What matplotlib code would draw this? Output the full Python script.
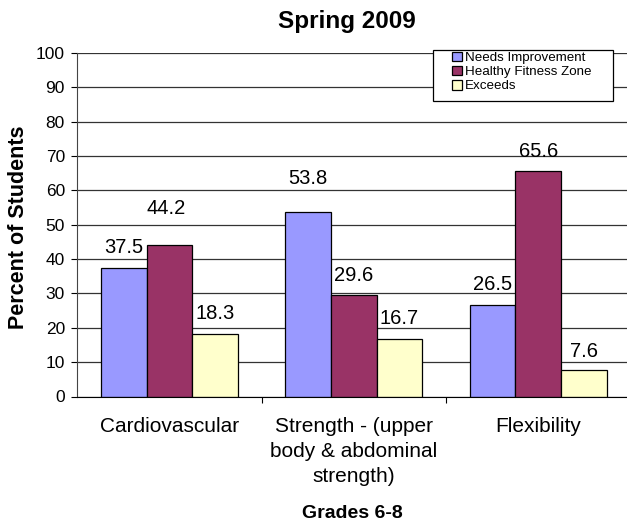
import numpy as np
import matplotlib.pyplot as plt
from matplotlib.patches import Rectangle

plt.rcParams['font.family'] = ['Liberation Sans', 'DejaVu Sans']

categories = ["Cardiovascular", "Strength - (upper\nbody & abdominal\nstrength)", "Flexibility"]
needs = [37.5, 53.8, 26.5]
healthy = [44.2, 29.6, 65.6]
exceeds = [18.3, 16.7, 7.6]
series_names = ["Needs Improvement", "Healthy Fitness Zone", "Exceeds"]
colors = ["#9999FF", "#993366", "#FFFFCC"]

# label offsets above bar top (pixels) - excel had a couple nudged up
label_dy = [[20, 33, 21], [36, 19.5, 20], [20, 21, 19]]
label_dx = [[0, 0, 0], [-3, 0, 0], [0, 0, 0]]

W, H = 627, 523
fig = plt.figure(figsize=(W/100, H/100), dpi=100)
ax = fig.add_axes([77.4/W, 1-396.5/H, 552.9/W, 343.5/H])

x = np.arange(len(categories))
w = 0.248
for i, (vals, name, c) in enumerate(zip([needs, healthy, exceeds], series_names, colors)):
    bars = ax.bar(x + (i-1)*w, vals, w, color=c, edgecolor="black", linewidth=0.9, label=name, zorder=3)
    for j, (b, v) in enumerate(zip(bars, vals)):
        ax.annotate(f"{v}", (b.get_x() + b.get_width()/2, v), xytext=(label_dx[i][j], label_dy[i][j]),
                    textcoords="offset pixels", ha="center", va="center", fontsize=14.5, zorder=4)

ax.set_xlim(-0.5, 2.5)
ax.set_ylim(0, 100)
ax.set_yticks(range(0, 101, 10))
ax.tick_params(axis='y', labelsize=12.5, direction='out', length=4, pad=5, width=0.8)
ax.set_xticks(x)
ax.set_xticklabels(categories, linespacing=1.38)
ax.tick_params(axis='x', which='major', length=0, labelsize=15, pad=15)
ax.set_xticks([0.5, 1.5], minor=True)
ax.tick_params(axis='x', which='minor', length=4, width=0.8, direction='out')
ax.yaxis.grid(True, color="#333333", linewidth=0.9, zorder=0)
for s in ["top", "right"]:
    ax.spines[s].set_visible(False)
ax.spines["left"].set_color("#444444")
ax.spines["bottom"].set_color("black")
ax.spines["bottom"].set_zorder(5)

fig.text(19/W, 1-227.5/H, "Percent of Students", rotation=90, ha="center", va="center",
         fontsize=15.5, fontweight="bold")
fig.text(352/W, 1-518/H, "Grades 6-8", ha="center", va="baseline", fontsize=14, fontweight="bold")
fig.text(347/W, 1-28/H, "Spring 2009", ha="center", va="baseline", fontsize=17.5, fontweight="bold")

# legend box like excel: fixed frame, content centered inside
fig.patches.append(Rectangle((433/W, 1-101/H), 180/W, 51/H, transform=fig.transFigure,
                             facecolor="white", edgecolor="black", linewidth=0.9, zorder=10))
leg = fig.legend(loc="upper left", bbox_to_anchor=(452/W, 1-51.5/H), fontsize=9.6, frameon=False,
                 handlelength=0.75, handleheight=0.75, handletextpad=0.25, labelspacing=0.12,
                 borderpad=0, borderaxespad=0)
leg.set_zorder(11)

fig.savefig("out.png", dpi=100)
